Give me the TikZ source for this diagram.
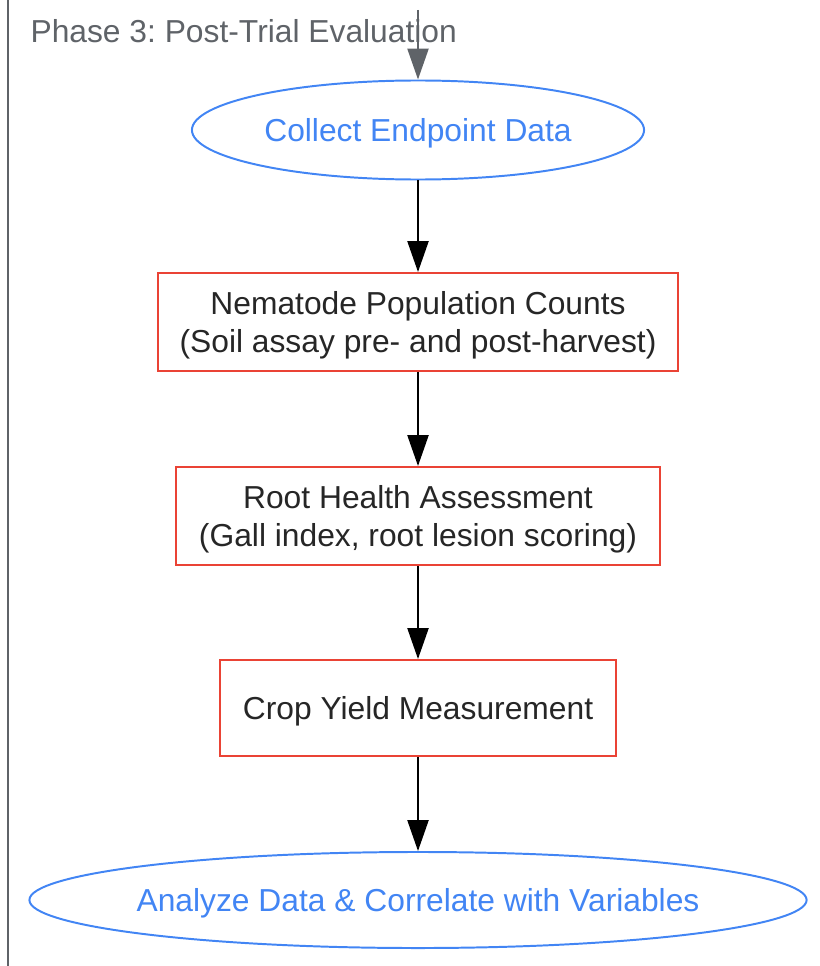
\documentclass[tikz,border=0pt]{standalone}
\usepackage{fontspec}
\setmainfont{Liberation Sans}
\usetikzlibrary{shapes.geometric,arrows.meta}
\definecolor{fasegrigio}{HTML}{5F6368}
\definecolor{inizioblu}{HTML}{4285F4}
\definecolor{passorosso}{HTML}{EA4335}
\begin{document}
\frenchspacing
\begin{tikzpicture}[x=0.025cm, y=-0.025cm, thick,
    every node/.style = {font=\fontsize{22.6}{27}\selectfont, text height=21.5pt, text depth=5.65pt},
    term/.style = {draw=inizioblu, text=inizioblu, ellipse, line width=1.4pt, inner sep=0pt},
    passo/.style = {draw=passorosso, text=black!85, rectangle, line width=1.4pt, align=center, inner sep=0pt},
    doppia/.style = {text height=48.5pt},
    freccia/.style = {-{Triangle[length=22pt, width=15pt]}, line width=1.4pt}]
    \useasboundingbox (0,0) rectangle (820,966);
    % Riquadro della fase
    \draw[fasegrigio, line width=1.8pt] (8,0) -- (8,966);
    \node[text=fasegrigio, anchor=west, inner sep=0pt] (fase) at (30,31) {Phase 3: Post-Trial Evaluation};
    \coordinate (ingresso) at (418,10);

    % Disegna i nodi del flusso
    \node[term, minimum width=11.3cm, minimum height=2.475cm] (raccolta) at (418,130) {Collect Endpoint Data};
    \node[passo, doppia, minimum width=13cm, minimum height=2.45cm] (nematodi) at (418,322) {Nematode Population Counts\\(Soil assay pre- and post-harvest)};
    \node[passo, doppia, minimum width=12.075cm, minimum height=2.45cm] (radici) at (418,516) {Root Health Assessment\\(Gall index, root lesion scoring)};
    \node[passo, minimum width=9.875cm, minimum height=2.4cm] (resa) at (418,708) {Crop Yield Measurement};
    \node[term, inner xsep=-5pt, minimum width=19.425cm, minimum height=2.4cm] (analisi) at (418,900) {Analyze Data \& Correlate with Variables};

    % Disegna le frecce
    \draw[freccia, fasegrigio] (ingresso) -- (raccolta);
    \draw[freccia] (raccolta) -- (nematodi);
    \draw[freccia] (nematodi) -- (radici);
    \draw[freccia] (radici) -- (resa);
    \draw[freccia] (resa) -- (analisi);

\end{tikzpicture}
\end{document}
